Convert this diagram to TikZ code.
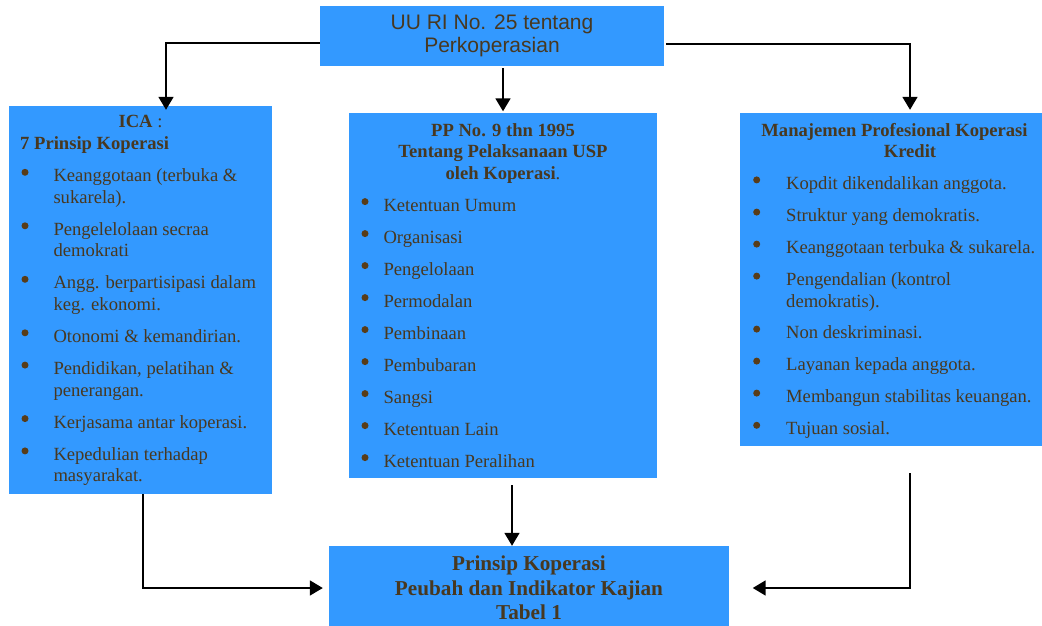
\documentclass[tikz,border=0pt]{standalone}
\usepackage{fontspec}
\setmainfont{Liberation Serif}
\newfontfamily\arialfont{Liberation Sans}
\usetikzlibrary{arrows.meta}
\usetikzlibrary{positioning}
\definecolor{boxblue}{RGB}{51,153,255}
\definecolor{inkbrown}{RGB}{72,56,32}
\definecolor{dotbrown}{RGB}{88,60,24}

% lines stacked from the first baseline down
\newcommand\stackrows[2]{\begin{tabular}[t]{@{}#1@{}}#2\end{tabular}}

\tikzset{
  box/.style={rectangle, fill=boxblue, inner sep=0pt},
  item/.style={anchor=base west, inner sep=0pt, text=inkbrown,
               font=\fontsize{18.6}{21.5}\selectfont},
  head/.style={inner sep=0pt, text=inkbrown,
               font=\fontsize{18.6}{21.5}\selectfont\bfseries},
  bul/.style={circle, fill=dotbrown, inner sep=0pt, minimum size=7pt},
  arr/.style={line width=1.8pt, -{Triangle[width=15pt,length=13pt]}}
}

\begin{document}
\begin{tikzpicture}[x=1pt,y=-1pt]
	\useasboundingbox (0,0) rectangle (1042,626);

	% boxes
	\node[box, minimum width=344pt, minimum height=60pt, text=inkbrown, align=center,
	      font=\arialfont\fontsize{21}{23.3}\selectfont] (uu) at (492,36)
	      {UU RI No. 25 tentang\\Perkoperasian};
	\node[box, minimum width=263pt, minimum height=388pt] (ica) at (140.5,300) {};
	\node[box, minimum width=308pt, minimum height=365pt] (pp) at (503,295.5) {};
	\node[box, minimum width=340pt, minimum height=333pt] (mpk) at (910,279.5) {};
	\node[box, minimum width=400pt, minimum height=84pt, text=inkbrown, align=center,
	      font=\fontsize{21.2}{24.5}\selectfont\bfseries] (bot) at (529,588)
	      {Prinsip Koperasi\\Peubah dan Indikator Kajian\\Tabel 1};

	% headings
	\node[head, anchor=base] (icaA) at (140.5,127.7) {ICA {\mdseries :}};
	\node[head, anchor=base west] (icaB) at (20,149.3) {7 Prinsip Koperasi};
	\node[head, anchor=base] (ppA) at (503,136)
	      {\stackrows{c}{PP No. 9 thn 1995\\Tentang Pelaksanaan USP\\oleh Koperasi{\mdseries .}}};
	\node[head, anchor=base] (mpkA) at (910,136)
	      {\stackrows{c}{Manajemen Profesional Koperasi\hspace*{31pt}\\Kredit}};

	% lists
	\foreach \yy/\txt [count=\i] in {181.7/{Keanggotaan (terbuka \&\\sukarela).},
	                                235.2/{Pengelelolaan secraa\\demokrati},
	                                288.7/{Angg. berpartisipasi dalam\\keg. ekonomi.},
	                                342.2/{Otonomi \& kemandirian.},
	                                374.5/{Pendidikan, pelatihan \&\\penerangan.},
	                                428/{Kerjasama antar koperasi.},
	                                460.3/{Kepedulian terhadap\\masyarakat.}} {
		\node[bul] (icaDot\i) at (25,\yy-9.4) {};
		\node[item] (icaItem\i) at (53.3,\yy) {\stackrows{l}{\txt}};
	}
	\foreach \txt [count=\i from 0] in {Ketentuan Umum, Organisasi, Pengelolaan, Permodalan,
	                                   Pembinaan, Pembubaran, Sangsi, Ketentuan Lain,
	                                   Ketentuan Peralihan} {
		\node[bul] (ppDot\i) at (365,211+32*\i-9.4) {};
		\node[item] (ppItem\i) at (383.3,211+32*\i) {\txt};
	}
	\foreach \yy/\txt [count=\i] in {189.3/{Kopdit dikendalikan anggota.},
	                                221.5/{Struktur yang demokratis.},
	                                253.5/{Keanggotaan terbuka \& sukarela.},
	                                285.5/{Pengendalian (kontrol\\demokratis).},
	                                338.5/{Non deskriminasi.},
	                                370.5/{Layanan kepada anggota.},
	                                402.5/{Membangun stabilitas keuangan.},
	                                434.7/{Tujuan sosial.}} {
		\node[bul] (mpkDot\i) at (756.7,\yy-9.4) {};
		\node[item] (mpkItem\i) at (786,\yy) {\stackrows{l}{\txt}};
	}

	% connectors
	\draw[arr, shorten >=-4pt] ([yshift=-7pt]uu.west) -| ([xshift=25.5pt]ica.north);
	\draw[arr, shorten <=2pt, shorten >=1.5pt] ([xshift=11pt]uu.south) -- (pp.north);
	\draw[arr, shorten <=2pt, shorten >=3pt] ([yshift=-8pt]uu.east) -| (mpk.north);
	\draw[arr, shorten >=6pt] ([xshift=2.5pt]ica.south) |- (bot.west);
	\draw[arr, shorten <=7pt] ([xshift=9pt]pp.south) -- ([xshift=-17pt]bot.north);
	\draw[arr, shorten <=27pt, shorten >=23.5pt] (mpk.south) |- (bot.east);
\end{tikzpicture}
\end{document}
